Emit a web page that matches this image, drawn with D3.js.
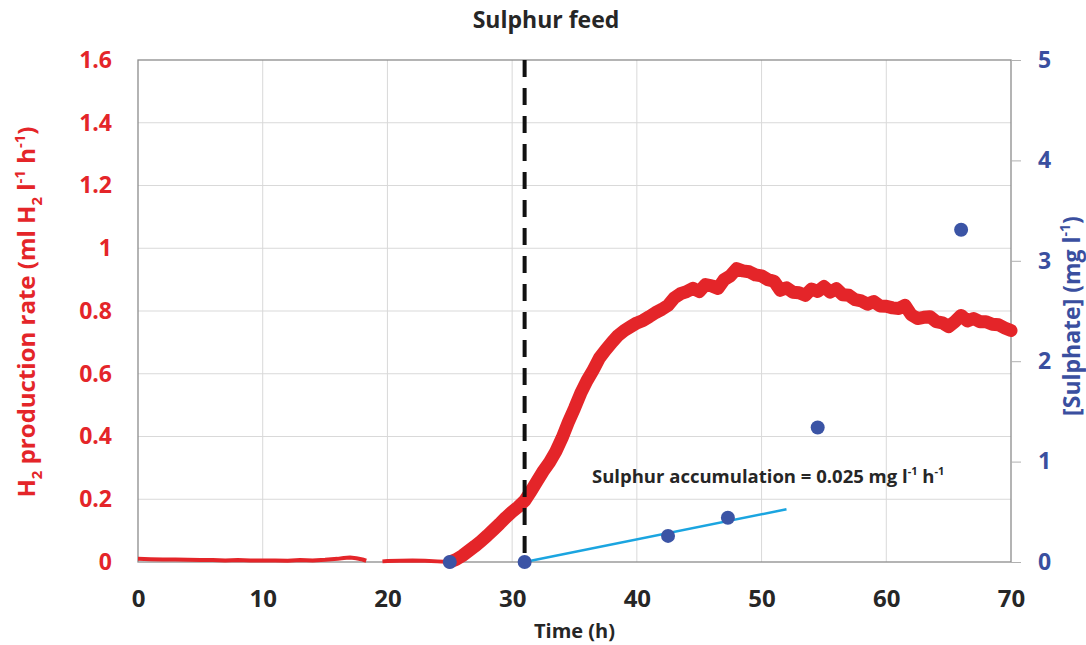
<!DOCTYPE html>
<html>
<head>
<meta charset="utf-8">
<script src="https://cdn.jsdelivr.net/npm/d3@7.9.0/dist/d3.min.js"></script>
<style>
  html, body { margin: 0; padding: 0; background: #fff; }
  svg { display: block; }
</style>
</head>
<body>
<svg id="chart"></svg>
<script>
// ---- data ----
const xTicks = [0, 10, 20, 30, 40, 50, 60, 70];
const yLeftTicks = [0, 0.2, 0.4, 0.6, 0.8, 1, 1.2, 1.4, 1.6];
const yRightTicks = [0, 1, 2, 3, 4, 5];

// H2 production rate before growth starts (thin, near zero)
const baseTime = [0, 1, 2, 3, 4, 5, 6, 7, 8, 9, 10, 11, 12, 13, 14, 15, 16, 16.5, 17, 17.5, 18, 18.3, 18.8, 19.3, 19.6, 20, 21, 22, 23, 24, 25];
const baseRate = [0.010, 0.009, 0.008, 0.008, 0.007, 0.006, 0.006, 0.005, 0.006, 0.005, 0.005, 0.005, 0.004, 0.006, 0.005, 0.007, 0.010, 0.013, 0.014, 0.012, 0.008, 0.004, null, null, 0.002, 0.003, 0.004, 0.005, 0.004, 0.002, 0.000];

// H2 production rate after growth starts (thick noisy trace)
const h2Time = [25, 25.5, 26, 26.5, 27, 27.5, 28, 28.5, 29, 29.5, 30, 30.5, 31, 31.5, 32, 32.5, 33, 33.5, 34, 34.5,
  35, 35.5, 36, 36.5, 37, 37.5, 38, 38.5, 39, 39.5, 40, 40.5, 41, 41.5, 42, 42.5, 43, 43.5, 44, 44.5,
  45, 45.5, 46, 46.5, 47, 47.5, 48, 48.5, 49, 49.5, 50, 50.5, 51, 51.5, 52, 52.5, 53, 53.5, 54, 54.5,
  55, 55.5, 56, 56.5, 57, 57.5, 58, 58.5, 59, 59.5, 60, 60.5, 61, 61.5, 62, 62.5, 63, 63.5, 64, 64.5,
  65, 65.5, 66, 66.5, 67, 67.5, 68, 68.5, 69, 69.5, 70];
const h2Rate = [0.000, 0.008, 0.020, 0.035, 0.050, 0.066, 0.084, 0.103, 0.122, 0.142, 0.160, 0.176, 0.195, 0.225, 0.258, 0.290, 0.318, 0.352, 0.395, 0.445,
  0.490, 0.538, 0.578, 0.612, 0.650, 0.676, 0.700, 0.722, 0.738, 0.750, 0.762, 0.770, 0.782, 0.795, 0.805, 0.818, 0.842, 0.855, 0.862, 0.872,
  0.862, 0.884, 0.880, 0.872, 0.900, 0.912, 0.935, 0.928, 0.925, 0.915, 0.912, 0.900, 0.895, 0.866, 0.874, 0.860, 0.858, 0.850, 0.870, 0.862,
  0.878, 0.860, 0.871, 0.852, 0.850, 0.836, 0.832, 0.822, 0.830, 0.816, 0.815, 0.810, 0.808, 0.818, 0.788, 0.776, 0.780, 0.782, 0.766, 0.762,
  0.750, 0.766, 0.786, 0.768, 0.776, 0.766, 0.766, 0.758, 0.756, 0.746, 0.738];

// sulphate measurements (right axis)
const sulphateTime = [25, 31, 42.5, 47.3, 54.5, 66];
const sulphateConc = [0, 0, 0.26, 0.44, 1.34, 3.31];

// sulphur accumulation fit line
const fitTime = [31, 52];
const fitConc = [0, 0.525];

// sulphur feed start
const feedTime = 31;

// ---- layout ----
const width = 1086;
const height = 645;
const marginTop = 60;
const marginRight = 75;
const marginBottom = 83;
const marginLeft = 138;

const FONT = "'Open Sans', 'DejaVu Sans', sans-serif";
const RED = '#e42529';
const BLUE = '#3a4f9f';
const DOT = '#3b54a5';
const CYAN = '#1ba5e0';
const DARK = '#262626';

const x = d3.scaleLinear().domain([0, 70]).range([marginLeft, width - marginRight]);
const yL = d3.scaleLinear().domain([0, 1.6]).range([height - marginBottom, marginTop]);
const yR = d3.scaleLinear().domain([0, 5]).range([height - marginBottom, marginTop]);

const svg = d3.select('#chart')
  .attr('width', width)
  .attr('height', height)
  .attr('viewBox', [0, 0, width, height])
  .style('font-family', FONT);

// gridlines
svg.append('g')
  .selectAll('line')
  .data(yLeftTicks.slice(1, -1))
  .join('line')
  .attr('x1', x(0)).attr('x2', x(70))
  .attr('y1', (d) => yL(d)).attr('y2', (d) => yL(d))
  .attr('stroke', '#d9d9d9').attr('stroke-width', 1);

svg.append('g')
  .selectAll('line')
  .data(xTicks.slice(1, -1))
  .join('line')
  .attr('x1', (d) => x(d)).attr('x2', (d) => x(d))
  .attr('y1', yL(1.6)).attr('y2', yL(0))
  .attr('stroke', '#d9d9d9').attr('stroke-width', 1);

// plot frame
svg.append('rect')
  .attr('x', x(0)).attr('y', yL(1.6))
  .attr('width', x(70) - x(0)).attr('height', yL(0) - yL(1.6))
  .attr('fill', 'none')
  .attr('stroke', '#8c8c8c')
  .attr('stroke-width', 1.3);

// axes
const tickStyle = (color, size) => (g) => g.selectAll('text')
  .attr('fill', color).style('font-size', size).style('font-weight', 700)
  .style('font-family', FONT);

svg.append('g')
  .attr('transform', `translate(${marginLeft},0)`)
  .call(d3.axisLeft(yL).tickValues(yLeftTicks).tickSize(0).tickPadding(26)
    .tickFormat((d) => String(+d.toFixed(1))))
  .call((g) => g.select('.domain').remove())
  .call(tickStyle(RED, '23px'));

svg.append('g')
  .attr('transform', `translate(0,${height - marginBottom})`)
  .call(d3.axisBottom(x).tickValues(xTicks).tickSize(0).tickPadding(28))
  .call((g) => g.select('.domain').remove())
  .call(tickStyle(DARK, '24px'));

svg.append('g')
  .attr('transform', `translate(${width - marginRight},0)`)
  .call(d3.axisRight(yR).tickValues(yRightTicks).tickSize(10).tickPadding(17)
    .tickFormat(d3.format('d')))
  .call((g) => g.select('.domain').remove())
  .call((g) => g.selectAll('line').attr('stroke', '#b0b0b0'))
  .call(tickStyle(BLUE, '23px'));

// text with sub / superscripts
function richText(sel, parts, fs) {
  let shift = 0;
  parts.forEach((p) => {
    const target = p.sub ? 0.28 * fs : p.sup ? -0.42 * fs : 0;
    sel.append('tspan')
      .attr('dy', target - shift)
      .style('font-size', p.sub || p.sup ? `${Math.round(fs * 0.62)}px` : null)
      .text(p.t);
    shift = target;
  });
}

// H2 traces
const lineBase = d3.line()
  .defined((d) => d[1] !== null)
  .x((d) => x(d[0]))
  .y((d) => yL(d[1]));

svg.append('path')
  .datum(d3.zip(baseTime, baseRate))
  .attr('d', lineBase)
  .attr('fill', 'none')
  .attr('stroke', RED)
  .attr('stroke-width', 4)
  .attr('stroke-linejoin', 'round');

const lineH2 = d3.line()
  .x((d) => x(d[0]))
  .y((d) => yL(d[1]));

svg.append('path')
  .datum(d3.zip(h2Time, h2Rate))
  .attr('d', lineH2)
  .attr('fill', 'none')
  .attr('stroke', RED)
  .attr('stroke-width', 13)
  .attr('stroke-linejoin', 'round')
  .attr('stroke-linecap', 'round');

// sulphur feed marker
svg.append('line')
  .attr('x1', x(feedTime)).attr('x2', x(feedTime))
  .attr('y1', yL(1.6)).attr('y2', yL(0))
  .attr('stroke', '#111')
  .attr('stroke-width', 4)
  .attr('stroke-dasharray', '17 11');

// accumulation fit
svg.append('path')
  .datum(d3.zip(fitTime, fitConc))
  .attr('d', d3.line().x((d) => x(d[0])).y((d) => yR(d[1])))
  .attr('stroke', CYAN)
  .attr('stroke-width', 2.5)
  .attr('fill', 'none');

// sulphate points
svg.append('g')
  .selectAll('circle')
  .data(d3.zip(sulphateTime, sulphateConc))
  .join('circle')
  .attr('cx', (d) => x(d[0]))
  .attr('cy', (d) => yR(d[1]))
  .attr('r', 7)
  .attr('fill', DOT);

// annotation
richText(svg.append('text')
  .attr('x', 592).attr('y', 483)
  .attr('fill', DARK)
  .style('font-size', '18.5px').style('font-weight', 700),
  [{ t: 'Sulphur accumulation = 0.025 mg l' }, { t: '-1', sup: true }, { t: ' h' }, { t: '-1', sup: true }], 18.5);

// titles
svg.append('text')
  .attr('x', 546).attr('y', 28)
  .attr('text-anchor', 'middle')
  .attr('fill', DARK)
  .style('font-size', '23px').style('font-weight', 700)
  .text('Sulphur feed');

svg.append('text')
  .attr('x', (x(0) + x(70)) / 2).attr('y', 638)
  .attr('text-anchor', 'middle')
  .attr('fill', DARK)
  .style('font-size', '20px').style('font-weight', 700)
  .text('Time (h)');

richText(svg.append('text')
  .attr('transform', 'translate(35,312) rotate(-90)')
  .attr('text-anchor', 'middle')
  .attr('fill', RED)
  .style('font-size', '24px').style('font-weight', 700),
  [{ t: 'H' }, { t: '2', sub: true }, { t: ' production rate (ml H' }, { t: '2', sub: true },
   { t: ' l' }, { t: '-1', sup: true }, { t: ' h' }, { t: '-1', sup: true }, { t: ')' }], 24);

richText(svg.append('text')
  .attr('transform', 'translate(1080,316) rotate(-90)')
  .attr('text-anchor', 'middle')
  .attr('fill', BLUE)
  .style('font-size', '23px').style('font-weight', 700),
  [{ t: '[Sulphate] (mg l' }, { t: '-1', sup: true }, { t: ')' }], 23);
</script>
</body>
</html>
